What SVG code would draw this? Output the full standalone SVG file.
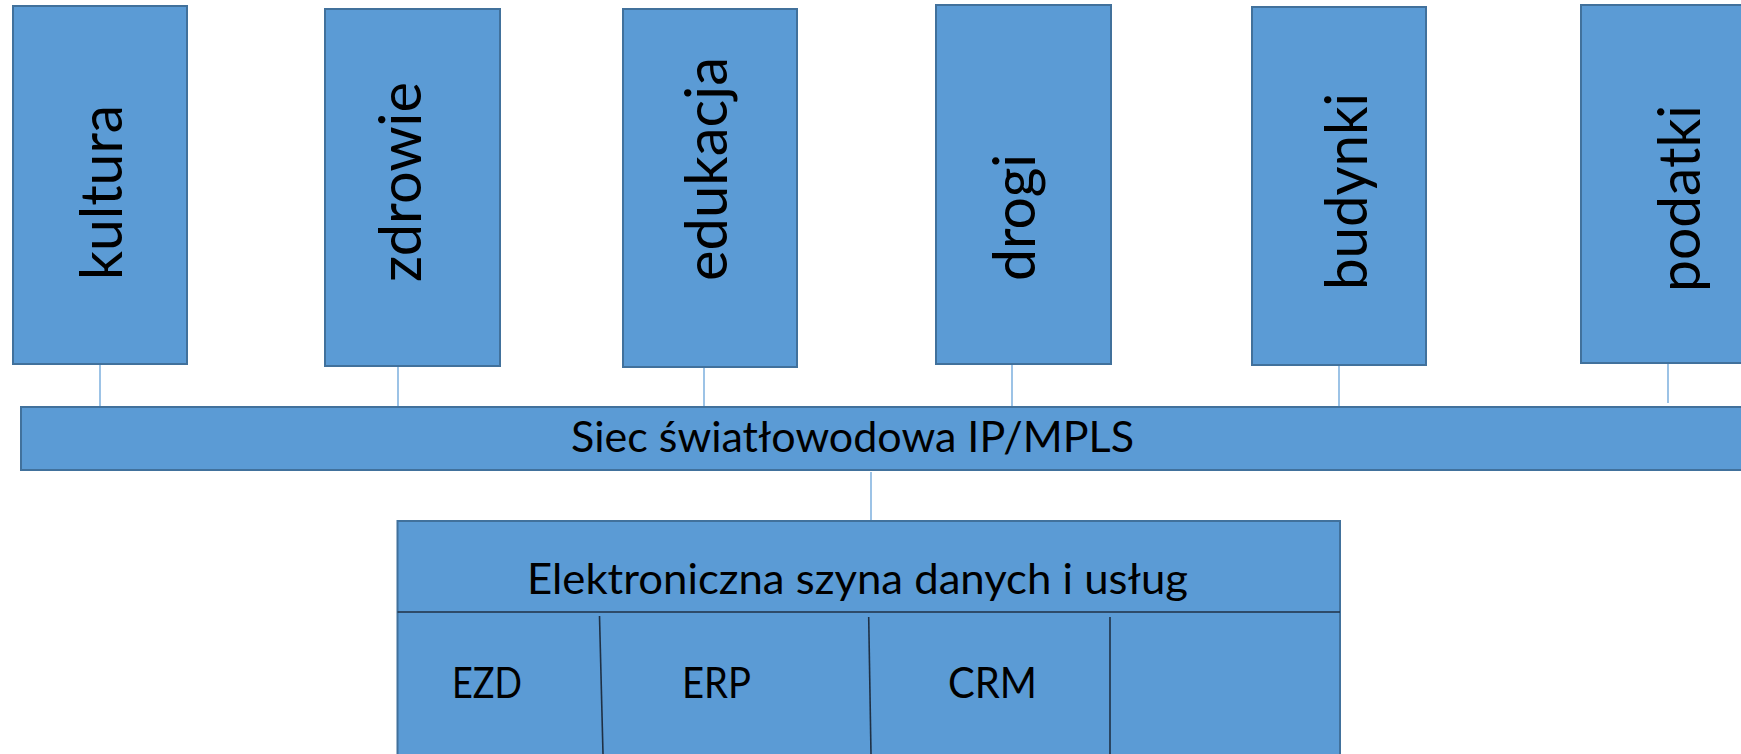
<svg xmlns="http://www.w3.org/2000/svg" width="1741" height="754" viewBox="0 0 1741 754">
<style>
.box{fill:#5B9BD5;stroke:#41719C;stroke-width:2}
.conn{stroke:#5B9BD5;stroke-width:1.2;fill:none}
.div{stroke:#1F3044;stroke-width:1.6;fill:none}
.vt{font-family:Lato,"Open Sans","Liberation Sans",sans-serif;font-size:58px;fill:#000}
.ht{font-family:Lato,"Open Sans","Liberation Sans",sans-serif;font-size:42px;fill:#000}
</style>
<rect width="1741" height="754" fill="#ffffff"/>
<g id="connectors">
<line class="conn" x1="100" y1="365" x2="100" y2="407"/>
<line class="conn" x1="398" y1="367" x2="398" y2="407"/>
<line class="conn" x1="704" y1="367" x2="704" y2="407"/>
<line class="conn" x1="1012" y1="364" x2="1012" y2="407"/>
<line class="conn" x1="1339" y1="366" x2="1339" y2="407"/>
<line class="conn" x1="1668" y1="362" x2="1668" y2="403"/>
<line class="conn" x1="871" y1="472" x2="871" y2="521"/>
</g>
<g id="kultura">
<rect class="box" x="13" y="6" width="174" height="358"/>
<text class="vt" transform="translate(122,280) rotate(-90)" textLength="175" lengthAdjust="spacingAndGlyphs">kultura</text>
</g>
<g id="zdrowie">
<rect class="box" x="325" y="9" width="175" height="357"/>
<text class="vt" transform="translate(421,282) rotate(-90)" textLength="200" lengthAdjust="spacingAndGlyphs">zdrowie</text>
</g>
<g id="edukacja">
<rect class="box" x="623" y="9" width="174" height="358"/>
<text class="vt" transform="translate(727,281) rotate(-90)" textLength="224" lengthAdjust="spacingAndGlyphs">edukacja</text>
</g>
<g id="drogi">
<rect class="box" x="936" y="5" width="175" height="359"/>
<text class="vt" transform="translate(1035,281) rotate(-90)" textLength="127" lengthAdjust="spacingAndGlyphs">drogi</text>
</g>
<g id="budynki">
<rect class="box" x="1252" y="7" width="174" height="358"/>
<text class="vt" transform="translate(1367,290) rotate(-90)" textLength="197" lengthAdjust="spacingAndGlyphs">budynki</text>
</g>
<g id="podatki">
<rect class="box" x="1581" y="5" width="200" height="358"/>
<text class="vt" transform="translate(1700,292) rotate(-90)" textLength="187" lengthAdjust="spacingAndGlyphs">podatki</text>
</g>
<g id="siec">
<rect class="box" x="21" y="407" width="1750" height="63"/>
<text class="ht" x="571" y="452" textLength="563" lengthAdjust="spacingAndGlyphs">Siec światłowodowa IP/MPLS</text>
</g>
<g id="szyna">
<rect class="box" x="397.5" y="521" width="942.5" height="260"/>
<line class="div" x1="397.5" y1="612" x2="1340" y2="612"/>
<text class="ht" x="527" y="594" textLength="661" lengthAdjust="spacingAndGlyphs">Elektroniczna szyna danych i usług</text>
</g>
<g id="ezd">
<line class="div" x1="599.5" y1="616" x2="603" y2="754"/>
<text class="ht" x="452" y="698" textLength="70" lengthAdjust="spacingAndGlyphs">EZD</text>
</g>
<g id="erp">
<line class="div" x1="868.7" y1="617" x2="871" y2="754"/>
<text class="ht" x="682" y="698" textLength="69" lengthAdjust="spacingAndGlyphs">ERP</text>
</g>
<g id="crm">
<line class="div" x1="1110" y1="617" x2="1110" y2="754"/>
<text class="ht" x="948" y="698" textLength="89" lengthAdjust="spacingAndGlyphs">CRM</text>
</g>
</svg>
